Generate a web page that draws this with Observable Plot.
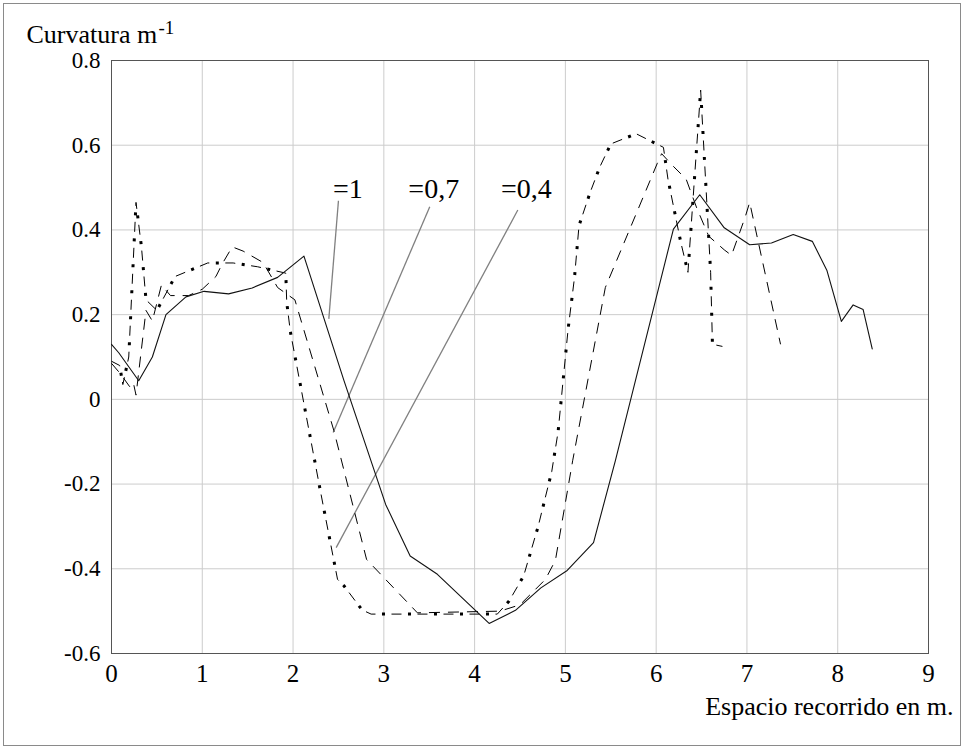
<!DOCTYPE html>
<html>
<head>
<meta charset="utf-8">
<script src="https://cdn.jsdelivr.net/npm/d3@7"></script>
<script src="https://cdn.jsdelivr.net/npm/@observablehq/plot@0.6"></script>
<style>
  body { margin: 0; background: #fff; }
  #wrap { position: relative; width: 964px; height: 749px; background: #fff; }
  #border { position: absolute; left: 3px; top: 3px; width: 956px; height: 741px; border: 1px solid #8a8a8a; pointer-events: none; }
  #chart { position: absolute; left: 0; top: 0; }
  #chart svg, #chart svg text { font-family: "Liberation Serif", "Times New Roman", serif !important; }
</style>
</head>
<body>
<div id="wrap">
  <div id="chart"></div>
  <div id="border"></div>
</div>
<script>
// ---- data ----
const xTickVals = [0, 1, 2, 3, 4, 5, 6, 7, 8, 9];
const xTickLabels = ["0", "1", "2", "3", "4", "5", "6", "7", "8", "9"];
const yTickVals = [-0.6, -0.4, -0.2, 0, 0.2, 0.4, 0.6, 0.8];
const yTickLabels = ["-0.6", "-0.4", "-0.2", "0", "0.2", "0.4", "0.6", "0.8"];

// kappa = 1 (solid)
const solidX = [0, 0.08, 0.30, 0.45, 0.60, 0.82, 1.02, 1.29, 1.55, 1.83, 2.12, 2.56, 3.02, 3.29, 3.59, 4.16, 4.45, 4.73, 5.02, 5.31, 5.55, 6.19, 6.48, 6.75, 7.03, 7.27, 7.51, 7.72, 7.88, 8.04, 8.17, 8.28, 8.38];
const solidY = [0.13, 0.11, 0.044, 0.10, 0.20, 0.242, 0.255, 0.249, 0.263, 0.288, 0.338, 0.045, -0.248, -0.37, -0.413, -0.529, -0.498, -0.445, -0.404, -0.338, -0.145, 0.402, 0.483, 0.405, 0.365, 0.369, 0.389, 0.373, 0.305, 0.184, 0.223, 0.212, 0.119];

// kappa = 0,7 (dashed)
const dashX = [0, 0.10, 0.20, 0.24, 0.27, 0.38, 0.45, 0.55, 0.65, 0.85, 1.00, 1.15, 1.22, 1.33, 1.45, 1.67, 1.83, 2.02, 2.45, 2.81, 3.37, 4.28, 4.50, 4.78, 4.89, 5.08, 5.44, 6.01, 6.06, 6.19, 6.33, 6.45, 6.58, 6.75, 6.83, 6.98, 7.03, 7.37];
const dashY = [0.085, 0.06, 0.03, 0.04, 0.01, 0.21, 0.185, 0.27, 0.245, 0.245, 0.26, 0.29, 0.32, 0.36, 0.35, 0.323, 0.264, 0.235, -0.074, -0.378, -0.504, -0.50, -0.485, -0.425, -0.38, -0.145, 0.264, 0.556, 0.58, 0.55, 0.52, 0.45, 0.385, 0.353, 0.34, 0.43, 0.465, 0.13];

// kappa = 0,4 (dash-dot)
const dotX = [0, 0.09, 0.125, 0.19, 0.27, 0.33, 0.38, 0.50, 0.70, 1.06, 1.34, 1.61, 1.92, 1.93, 1.97, 2.30, 2.44, 2.49, 2.56, 2.76, 2.86, 4.25, 4.38, 4.54, 4.70, 4.85, 4.92, 5.03, 5.10, 5.15, 5.27, 5.38, 5.50, 5.78, 6.08, 6.13, 6.27, 6.35, 6.49, 6.60, 6.62, 6.73];
const dotY = [0.09, 0.08, 0.035, 0.10, 0.465, 0.36, 0.235, 0.21, 0.29, 0.322, 0.322, 0.313, 0.298, 0.23, 0.16, -0.215, -0.37, -0.425, -0.44, -0.497, -0.507, -0.507, -0.476, -0.417, -0.30, -0.17, -0.076, 0.166, 0.287, 0.41, 0.487, 0.549, 0.603, 0.627, 0.595, 0.52, 0.372, 0.30, 0.73, 0.30, 0.13, 0.125];

// annotations
const annLabels = ["=1", "=0,7", "=0,4"];
const annX = [2.44, 3.27, 4.29];
const annY = [0.476, 0.476, 0.476];
const leadX1 = [2.50, 3.506, 4.476];
const leadY1 = [0.469, 0.455, 0.447];
const leadX2 = [2.394, 2.442, 2.475];
const leadY2 = [0.190, -0.078, -0.350];

const titleText = "Curvatura m";
const titleSup = "-1";
const xLabelText = "Espacio recorrido en m.";

// ---- build tables ----
const solid = solidX.map((x, i) => ({x, y: solidY[i]}));
const dashed = dashX.map((x, i) => ({x, y: dashY[i]}));
const dotted = dotX.map((x, i) => ({x, y: dotY[i]}));
const ann = annLabels.map((t, i) => ({t, x: annX[i], y: annY[i]}));
const leads = leadX1.map((x1, i) => ({x1, y1: leadY1[i], x2: leadX2[i], y2: leadY2[i]}));

const serif = "'Liberation Serif', 'Times New Roman', serif";
const yFmt = d => { const k = yTickVals.findIndex(v => Math.abs(v - d) < 1e-9); return k >= 0 ? yTickLabels[k] : ""; };
const xFmt = d => { const k = xTickVals.indexOf(d); return k >= 0 ? xTickLabels[k] : ""; };

const chart = Plot.plot({
  width: 964,
  height: 749,
  marginLeft: 111,
  marginRight: 36,
  marginTop: 60,
  marginBottom: 96,
  style: {fontFamily: serif, fontSize: "23px", background: "transparent", color: "#000"},
  x: {domain: [0, 9]},
  y: {domain: [-0.6, 0.8]},
  marks: [
    Plot.gridX(xTickVals, {stroke: "#cccccc", strokeOpacity: 1, strokeWidth: 1}),
    Plot.gridY(yTickVals, {stroke: "#cccccc", strokeOpacity: 1, strokeWidth: 1}),
    Plot.axisX({ticks: xTickVals, tickFormat: xFmt, tickSize: 0, tickPadding: 11, fontSize: 25, label: null}),
    Plot.axisY({ticks: yTickVals, tickFormat: yFmt, tickSize: 0, tickPadding: 11, fontSize: 23, label: null}),
    Plot.frame({stroke: "#555555", strokeWidth: 1}),
    // leader lines
    Plot.link(leads, {x1: "x1", y1: "y1", x2: "x2", y2: "y2", stroke: "#808080", strokeWidth: 1.3}),
    // kappa = 0,4 : dash-dot
    Plot.line(dotted, {x: "x", y: "y", stroke: "#000", strokeWidth: 1, strokeDasharray: "10,16", strokeLinecap: "butt"}),
    Plot.line(dotted, {x: "x", y: "y", stroke: "#000", strokeWidth: 3, strokeDasharray: "3,23", strokeDashoffset: 9.5, strokeLinecap: "butt"}),
    // kappa = 0,7 : dashed
    Plot.line(dashed, {x: "x", y: "y", stroke: "#000", strokeWidth: 1, strokeDasharray: "11,8", strokeLinecap: "butt"}),
    // kappa = 1 : solid
    Plot.line(solid, {x: "x", y: "y", stroke: "#111", strokeWidth: 1.1}),
    // annotation labels
    Plot.text(ann, {x: "x", y: "y", text: "t", textAnchor: "start", lineAnchor: "bottom", fontSize: 28, fill: "#000"}),
    // title and axis label
    Plot.text([titleText], {frameAnchor: "top-left", dx: -85, dy: -18, textAnchor: "start", lineAnchor: "bottom", fontSize: 26, fill: "#000"}),
    Plot.text([titleSup], {frameAnchor: "top-left", dx: 47, dy: -27, textAnchor: "start", lineAnchor: "bottom", fontSize: 19, fill: "#000"}),
    Plot.text([xLabelText], {frameAnchor: "bottom-right", dx: 25, dy: 61, textAnchor: "end", lineAnchor: "bottom", fontSize: 26, fill: "#000"})
  ]
});
document.getElementById("chart").appendChild(chart);
</script>
</body>
</html>
